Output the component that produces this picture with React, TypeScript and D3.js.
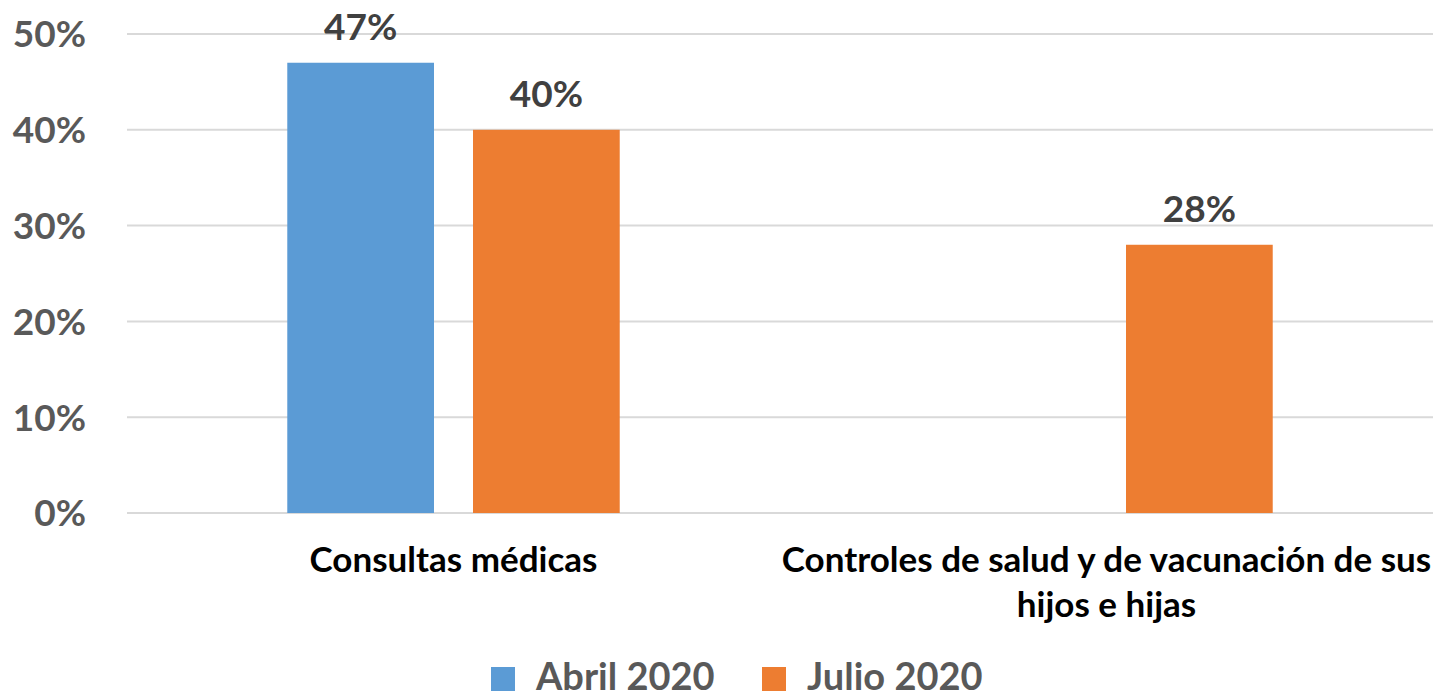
import * as d3 from 'd3';
import React, { useEffect, useRef } from 'react';

const categories = ['Consultas médicas', 'Controles de salud y de vacunación de sus hijos e hijas'];
const categoryLines = [['Consultas médicas'], ['Controles de salud y de vacunación de sus', 'hijos e hijas']];
const series = ['Abril 2020', 'Julio 2020'];
const abril = [0.47, null];
const julio = [0.40, 0.28];
const yTicks = [0, 0.1, 0.2, 0.3, 0.4, 0.5];
const colors = ['#5b9bd5', '#ed7d31'];

const W = 1435;
const H = 694;
const FONT = 'Lato, "Open Sans", sans-serif';

const App = () => {
    const ref = useRef(null);

    useEffect(() => {
        const svg = d3.select(ref.current);
        svg.selectAll('*').remove();

        const left = 127, right = 1433, top = 34, bottom = 513;

        const x = d3.scaleBand().domain(categories).range([left, right]).paddingInner(0).paddingOuter(0);
        const xSub = d3.scaleBand().domain(series).range([0, x.bandwidth()]).paddingInner(0.21).paddingOuter(0.863);
        const y = d3.scaleLinear().domain([0, 0.5]).range([bottom, top]);

        // gridlines
        svg.append('g').selectAll('line').data(yTicks).enter().append('line')
            .attr('x1', left).attr('x2', right)
            .attr('y1', d => y(d)).attr('y2', d => y(d))
            .attr('stroke', '#d9d9d9').attr('stroke-width', 2);

        // y labels
        svg.append('g').selectAll('text').data(yTicks).enter().append('text')
            .attr('x', 86).attr('y', d => y(d)).attr('dy', '0.36em')
            .attr('text-anchor', 'end')
            .attr('font-family', FONT).attr('font-weight', 700).attr('font-size', 37)
            .attr('fill', '#595959')
            .text(d => d3.format('.0%')(d));

        const rows = [];
        categories.forEach((c, i) => {
            [abril[i], julio[i]].forEach((v, j) => {
                if (v != null) rows.push({ c, s: series[j], v, color: colors[j] });
            });
        });

        svg.append('g').selectAll('rect').data(rows).enter().append('rect')
            .attr('x', d => x(d.c) + xSub(d.s))
            .attr('y', d => y(d.v))
            .attr('width', xSub.bandwidth())
            .attr('height', d => y(0) - y(d.v))
            .attr('fill', d => d.color);

        svg.append('g').selectAll('text').data(rows).enter().append('text')
            .attr('x', d => x(d.c) + xSub(d.s) + xSub.bandwidth() / 2)
            .attr('y', d => y(d.v) - 23)
            .attr('text-anchor', 'middle')
            .attr('font-family', FONT).attr('font-weight', 700).attr('font-size', 37)
            .attr('fill', '#404040')
            .text(d => d3.format('.0%')(d.v));

        // category labels
        categories.forEach((c, i) => {
            const t = svg.append('text')
                .attr('text-anchor', 'middle')
                .attr('font-family', FONT).attr('font-weight', 700).attr('font-size', 35)
                .attr('fill', '#000');
            categoryLines[i].forEach((line, k) => {
                t.append('tspan')
                    .attr('x', x(c) + x.bandwidth() / 2)
                    .attr('y', 572 + k * 45)
                    .text(line);
            });
        });

        // legend
        const legendX = [491, 762];
        series.forEach((s, i) => {
            svg.append('rect')
                .attr('x', legendX[i]).attr('y', 667)
                .attr('width', 24).attr('height', 24)
                .attr('fill', colors[i]);
            svg.append('text')
                .attr('x', legendX[i] + 45).attr('y', 690)
                .attr('font-family', FONT).attr('font-weight', 700).attr('font-size', 38)
                .attr('fill', '#595959')
                .text(s);
        });
    }, []);

    return (
        <div style={{ position: 'fixed', left: 0, top: 0 }}>
            <svg ref={ref} width={W} height={H} style={{ display: 'block', background: '#fff' }} />
        </div>
    );
};

export default App;
